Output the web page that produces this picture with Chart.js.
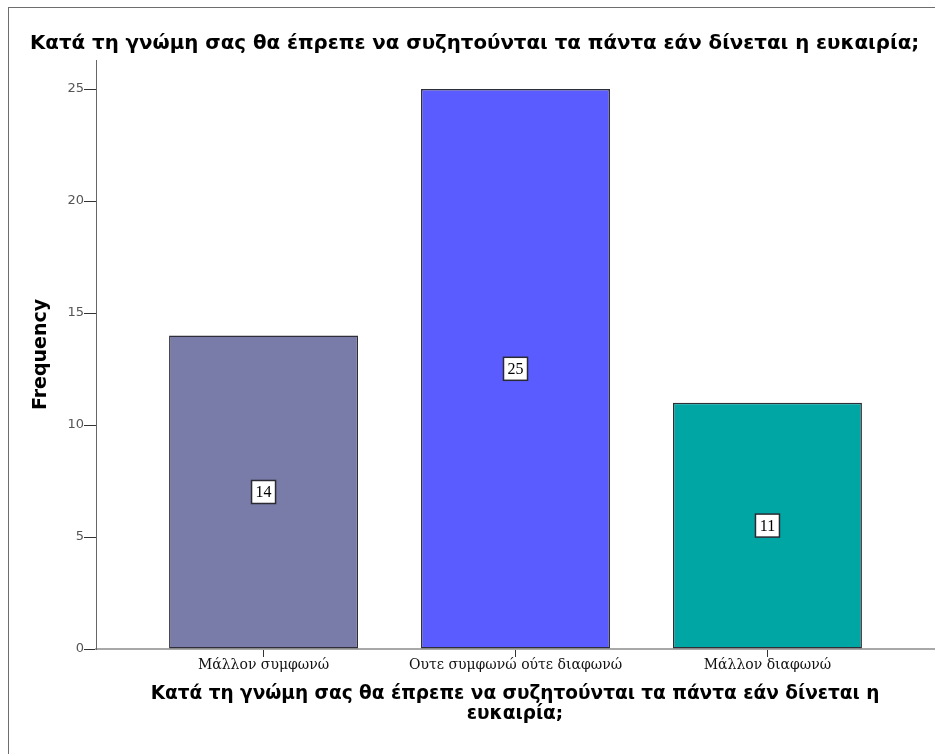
<!DOCTYPE html>
<html><head><meta charset="utf-8">
<script src="https://cdn.jsdelivr.net/npm/chart.js@4/dist/chart.umd.min.js"></script>
<style>html,body{margin:0;padding:0;background:#fff;} #wrap{width:935px;height:754px;position:relative}</style>
</head><body><div id="wrap"><canvas id="c" width="935" height="754"></canvas></div>
<script>
const chartTitle = 'Κατά τη γνώμη σας θα έπρεπε να συζητούνται τα πάντα εάν δίνεται η ευκαιρία;';
const xAxisTitle = ['Κατά τη γνώμη σας θα έπρεπε να συζητούνται τα πάντα εάν δίνεται η', 'ευκαιρία;'];
const yAxisTitle = 'Frequency';
const categories = ['Μάλλον συμφωνώ', 'Ουτε συμφωνώ ούτε διαφωνώ', 'Μάλλον διαφωνώ'];
const frequencies = [14, 25, 11];
const yTicks = [0, 5, 10, 15, 20, 25];
const barColors = ['#797ba8', '#5b5cff', '#00a6a3'];

const frameBorder = {
  id: 'frameBorder',
  beforeDraw(chart) {
    const ctx = chart.ctx;
    ctx.save();
    ctx.fillStyle = '#ffffff';
    ctx.fillRect(0, 0, chart.width, chart.height);
    ctx.strokeStyle = '#6e6e6e';
    ctx.lineWidth = 1;
    ctx.strokeRect(8.5, 7.5, chart.width + 20, chart.height + 20);
    ctx.restore();
  }
};

const valueBoxes = {
  id: 'valueBoxes',
  afterDatasetsDraw(chart) {
    const ctx = chart.ctx;
    const meta = chart.getDatasetMeta(0);
    ctx.save();
    ctx.font = '16px "Liberation Serif", "Times New Roman", serif';
    ctx.textAlign = 'center';
    ctx.textBaseline = 'middle';
    meta.data.forEach((el, i) => {
      const cx = el.x;
      const cy = (el.y + el.base) / 2;
      const w = 24, h = 23;
      ctx.fillStyle = '#ffffff';
      ctx.fillRect(cx - w / 2, cy - h / 2, w, h);
      ctx.strokeStyle = '#2a2a33';
      ctx.lineWidth = 1.5;
      ctx.strokeRect(cx - w / 2, cy - h / 2, w, h);
      ctx.fillStyle = '#000000';
      ctx.fillText(String(frequencies[i]), cx, cy + 1);
    });
    ctx.restore();
  }
};

new Chart(document.getElementById('c'), {
  type: 'bar',
  data: {
    datasets: [{
      data: frequencies.map((v, i) => ({ x: i + 1, y: v })),
      backgroundColor: barColors,
      borderColor: '#2e2e38',
      borderWidth: 1.5,
      borderSkipped: false,
      barPercentage: 0.75,
      categoryPercentage: 1
    }]
  },
  options: {
    responsive: false,
    animation: false,
    devicePixelRatio: 1,
    layout: { padding: { left: 30, right: 1, top: 0, bottom: 0 } },
    plugins: {
      legend: { display: false },
      tooltip: { enabled: false },
      title: {
        display: true,
        text: chartTitle,
        align: 'start',
        color: '#000',
        font: { family: '"DejaVu Sans", Verdana, sans-serif', size: 19.8, weight: 'bold', lineHeight: 1.2 },
        padding: { top: 32.1, bottom: 4.14 }
      }
    },
    scales: {
      x: {
        type: 'linear',
        offset: false,
        min: 0.335,
        max: 3.661,
        afterBuildTicks(scale) { scale.ticks = categories.map((c, i) => ({ value: i + 1 })); },
        afterFit(scale) { scale.height = 105; },
        border: { display: true, color: '#a8a8a8', width: 2 },
        grid: { offset: false, drawOnChartArea: false, drawTicks: true, tickLength: 8, color: '#333' },
        ticks: {
          autoSkip: false,
          maxRotation: 0,
          padding: 0,
          color: '#111',
          font: { family: '"DejaVu Serif", "Liberation Serif", serif', size: 14 },
          callback: (v) => categories[Math.round(v) - 1]
        },
        title: {
          display: true,
          text: xAxisTitle,
          color: '#000',
          font: { family: '"DejaVu Sans", Verdana, sans-serif', size: 18.5, weight: 'bold', lineHeight: 1.05 },
          padding: { top: 0, bottom: 30.3 }
        }
      },
      y: {
        min: 0,
        max: 26.3,
        afterBuildTicks(scale) { scale.ticks = yTicks.map(v => ({ value: v })); },
        afterFit(scale) { scale.width = 66; },
        border: { display: true, color: '#666', width: 1 },
        grid: { drawOnChartArea: false, drawTicks: true, tickLength: 12, color: '#333' },
        ticks: {
          padding: 0,
          color: '#555',
          font: { family: '"DejaVu Sans", sans-serif', size: 13 }
        },
        title: {
          display: true,
          text: yAxisTitle,
          color: '#000',
          font: { family: '"DejaVu Sans", Verdana, sans-serif', size: 19, weight: 'bold', lineHeight: 1.2 },
          padding: { top: 0, bottom: 0 }
        }
      }
    }
  },
  plugins: [frameBorder, valueBoxes]
});
</script></body></html>
